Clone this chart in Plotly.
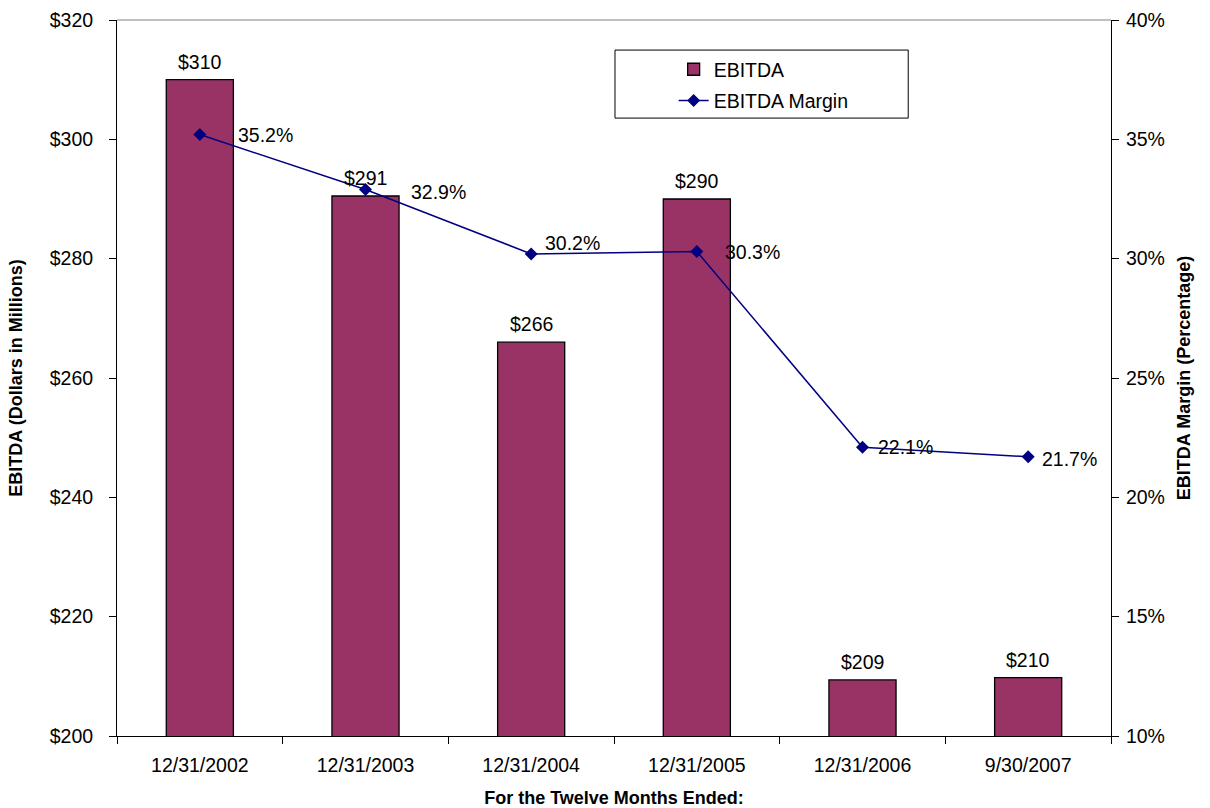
import plotly.graph_objects as go

categories = ["12/31/2002", "12/31/2003", "12/31/2004", "12/31/2005", "12/31/2006", "9/30/2007"]
ebitda = [310, 290.5, 266, 290, 209.4, 209.8]
ebitda_labels = ["$310", "$291", "$266", "$290", "$209", "$210"]
margin = [35.2, 32.9, 30.2, 30.3, 22.1, 21.7]
margin_labels = ["35.2%", "32.9%", "30.2%", "30.3%", "22.1%", "21.7%"]
y1_ticks = [200, 220, 240, 260, 280, 300, 320]
y1_ticktext = ["$200", "$220", "$240", "$260", "$280", "$300", "$320"]
y2_ticks = [10, 15, 20, 25, 30, 35, 40]
y2_ticktext = ["10%", "15%", "20%", "25%", "30%", "35%", "40%"]

# pixel nudges for the margin labels (placement style, not data)
label_dx = [36, 43, 12, 26, 13, 12]
label_dy = [0, -3, 11, 0, 0, -2]

FONT = "Liberation Sans, Arial, sans-serif"
FS = 19.5
BAR_COLOR = "#993366"
LINE_COLOR = "#000080"

fig = go.Figure()
fig.add_trace(go.Bar(
    x=categories, y=ebitda, name="EBITDA", legendgroup="g1",
    marker=dict(color=BAR_COLOR, line=dict(color="black", width=1.3)),
    yaxis="y",
))
fig.add_trace(go.Scatter(
    x=categories, y=margin, name="EBITDA Margin", legendgroup="g2",
    mode="lines+markers",
    line=dict(color=LINE_COLOR, width=1.5),
    marker=dict(symbol="diamond", size=10, color=LINE_COLOR),
    yaxis="y2",
))

for c, v, t in zip(categories, ebitda, ebitda_labels):
    fig.add_annotation(x=c, y=v, xref="x", yref="y", text=t, showarrow=False,
                       xanchor="center", yanchor="bottom", yshift=5,
                       font=dict(family=FONT, size=FS, color="black"))

for c, m, t, dx, dy in zip(categories, margin, margin_labels, label_dx, label_dy):
    fig.add_annotation(x=c, y=m, xref="x", yref="y2", text=t, showarrow=False,
                       xanchor="left", yanchor="middle", xshift=dx, yshift=dy,
                       font=dict(family=FONT, size=FS, color="black"))

fig.update_layout(
    width=1210, height=808,
    margin=dict(l=117, r=99, t=20, b=72, autoexpand=False),
    paper_bgcolor="white", plot_bgcolor="white",
    font=dict(family=FONT, size=FS, color="black"),
    bargap=0.595,
    showlegend=True,
    legend=dict(x=0.560, y=0.958, xanchor="left", yanchor="top",
                bgcolor="rgba(0,0,0,0)", borderwidth=0,
                font=dict(family=FONT, size=FS, color="black"),
                tracegroupgap=3),
    xaxis=dict(
        automargin=False,
        showline=True, linecolor="black", linewidth=1,
        ticks="outside", ticklen=7, tickcolor="black", tickson="boundaries",
        showgrid=False, tickfont=dict(family=FONT, size=FS),
        ticklabelstandoff=12,
        title=dict(text="<b>For the Twelve Months Ended:</b>", standoff=15,
                   font=dict(family=FONT, size=18)),
    ),
    yaxis=dict(
        automargin=False,
        range=[200, 320], tickvals=y1_ticks, ticktext=y1_ticktext,
        showline=True, linecolor="black", linewidth=1,
        ticks="outside", ticklen=7, tickcolor="black",
        showgrid=False, zeroline=False, tickfont=dict(family=FONT, size=FS),
        ticklabelstandoff=12,
        title=dict(text="<b>EBITDA (Dollars in Millions)</b>", standoff=22,
                   font=dict(family=FONT, size=18)),
    ),
    yaxis2=dict(
        automargin=False,
        range=[10, 40], tickvals=y2_ticks, ticktext=y2_ticktext,
        overlaying="y", side="right",
        showline=True, linecolor="black", linewidth=1,
        ticks="outside", ticklen=7, tickcolor="black",
        showgrid=False, zeroline=False, tickfont=dict(family=FONT, size=FS),
        ticklabelstandoff=3,
        title=dict(text="<b>EBITDA Margin (Percentage)</b>", standoff=13,
                   font=dict(family=FONT, size=18)),
    ),
    shapes=[
        dict(type="line", xref="paper", yref="paper", x0=0, x1=1, y0=1, y1=1,
             line=dict(color="#808080", width=1)),
        dict(type="rect", xref="paper", yref="paper", x0=0.501, x1=0.796, y0=0.863, y1=0.958,
             line=dict(color="black", width=1), fillcolor="rgba(0,0,0,0)"),
    ],
)

fig.write_html("out.html")
